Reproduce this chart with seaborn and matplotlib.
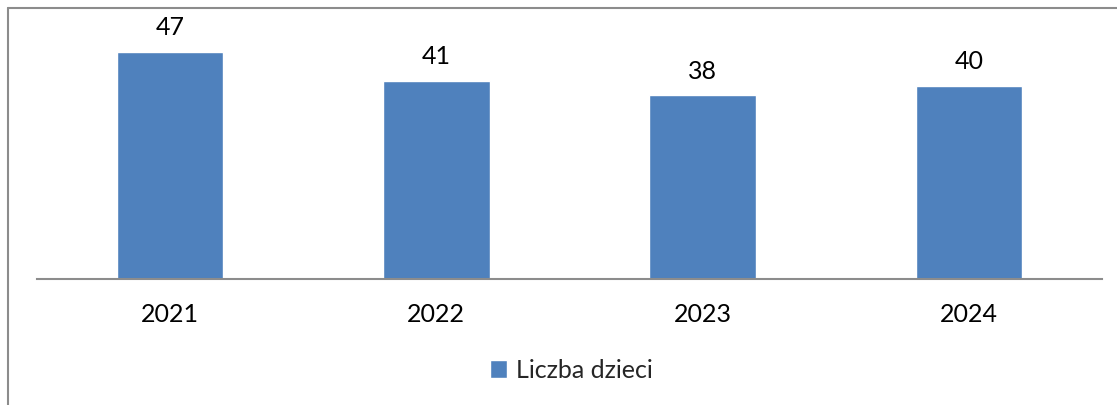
import matplotlib
matplotlib.use("Agg")
import matplotlib.pyplot as plt
from matplotlib.lines import Line2D
import seaborn as sns
import pandas as pd

years = ["2021", "2022", "2023", "2024"]
values = [47, 41, 38, 40]
series_name = "Liczba dzieci"

sns.set_theme(style="white")
plt.rcParams['font.family'] = ['Lato', 'DejaVu Sans']

W, H = 1117, 405
fig = plt.figure(figsize=(W / 100, H / 100), dpi=100)
ax = fig.add_axes([37 / W, 1 - 279 / H, (1102 - 37) / W, (279 - 37.5) / H])

df = pd.DataFrame({"year": years, "value": values})
sns.barplot(data=df, x="year", y="value", color="#4F81BD", saturation=1,
            width=0.4, label=series_name, ax=ax)

ax.set_ylim(0, 50)
ax.set_xlim(-0.5, len(years) - 0.5)
for c in ax.containers:
    ax.bar_label(c, padding=9, fontsize=18, color="black")

ax.set_xlabel("")
ax.set_ylabel("")
ax.set_yticks([])
ax.tick_params(axis="x", length=0, pad=17, labelsize=18, colors="black")
for s in ["top", "right", "left"]:
    ax.spines[s].set_visible(False)
ax.spines["bottom"].set_color("#8C8C8C")
ax.spines["bottom"].set_linewidth(1.5)

leg = ax.legend(loc="center", bbox_to_anchor=(571 / W, 1 - 370 / H),
                bbox_transform=fig.transFigure, frameon=False, fontsize=18,
                handlelength=0.7, handleheight=0.7, handletextpad=0.35)

# outer chart frame (partially visible)
fig.add_artist(Line2D([7.5 / W, 1.0], [1 - 8 / H, 1 - 8 / H], transform=fig.transFigure,
                      color="#8C8C8C", linewidth=1.5))
fig.add_artist(Line2D([7.5 / W, 7.5 / W], [0.0, 1 - 8 / H], transform=fig.transFigure,
                      color="#8C8C8C", linewidth=1.5))

fig.savefig("out.png", dpi=100)
